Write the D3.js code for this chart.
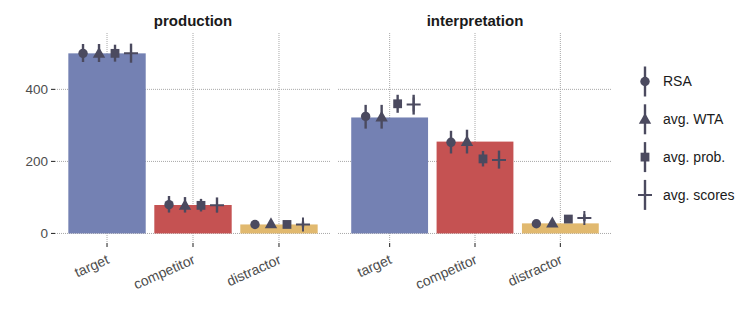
<!DOCTYPE html>
<html>
<head>
<meta charset="utf-8">
<script src="https://cdn.jsdelivr.net/npm/d3@7"></script>
<style>
  body { margin: 0; background: #fff; }
  text { font-family: "Liberation Sans", Arial, Helvetica, sans-serif; }
</style>
</head>
<body>
<div id="chart"></div>
<script>
// data

var panels = ["production", "interpretation"];
var categories = ["target", "competitor", "distractor"];
var models = ["RSA", "avg. WTA", "avg. prob.", "avg. scores"];

// observed counts (bars), per panel, per category
var barValues = [
  [500, 79, 25],
  [322, 255, 28]
];

// model predictions [panel][category][model]
var pointValues = [
  [[500, 500, 500, 500], [80, 78, 78, 78], [25, 27, 25, 25]],
  [[325, 323, 360, 358], [253, 255, 207, 204], [27, 29, 40, 43]]
];
var lowerValues = [
  [[476, 476, 477, 474], [58, 58, 61, 58], [18, 20, 19, 17]],
  [[291, 291, 335, 330], [222, 222, 186, 180], [19, 22, 31, 34]]
];
var upperValues = [
  [[526, 526, 524, 527], [104, 101, 96, 100], [32, 34, 31, 33]],
  [[357, 357, 385, 385], [285, 288, 229, 230], [35, 37, 50, 53]]
];

var yTicks = [0, 200, 400];

var width = 747, height = 327;
var barColors = ["#7481b3", "#c55252", "#e1b96f"];
var pointColor = "#4b4a5f";
var gridColor = "#a8a8a8";
var textColor = "#4d4d4d";

var panelTop = 33, panelBottom = 243;
var panelX = [[55, 331], [338, 612]];

var svg = d3.select("#chart").append("svg")
  .attr("width", width)
  .attr("height", height);

// ggplot-like 5% expansion around 0..530
var y = d3.scaleLinear()
  .domain([-26.5, 556.5])
  .range([panelBottom, panelTop]);

var dodge = d3.scalePoint()
  .domain(models)
  .range([-24, 24]);

function drawMarker(sel, i) {
  if (i == 0) {
    sel.append("circle").attr("r", 4.7).attr("fill", pointColor);
  } else if (i == 1) {
    sel.append("path").attr("d", "M0,-6.4L6.2,4.5L-6.2,4.5Z").attr("fill", pointColor);
  } else if (i == 2) {
    sel.append("rect").attr("x", -4.4).attr("y", -4.4).attr("width", 8.8).attr("height", 8.8).attr("fill", pointColor);
  } else {
    sel.append("path").attr("d", "M-7,0H7M0,-7V7")
      .attr("stroke", pointColor).attr("stroke-width", 2).attr("fill", "none");
  }
}

panels.forEach(function(panel, p) {
  var x = d3.scaleBand()
    .domain(categories)
    .range(panelX[p])
    .paddingInner(0.1)
    .paddingOuter(0.155);

  var g = svg.append("g");

  // grid
  g.selectAll(".hgrid")
    .data(yTicks)
    .enter().append("line")
    .attr("x1", panelX[p][0]).attr("x2", panelX[p][1])
    .attr("y1", function(d) { return y(d); })
    .attr("y2", function(d) { return y(d); })
    .attr("stroke", gridColor)
    .attr("stroke-dasharray", "1,1");

  g.selectAll(".vgrid")
    .data(categories)
    .enter().append("line")
    .attr("x1", function(d) { return x(d) + x.bandwidth() / 2; })
    .attr("x2", function(d) { return x(d) + x.bandwidth() / 2; })
    .attr("y1", panelTop).attr("y2", panelBottom)
    .attr("stroke", gridColor)
    .attr("stroke-dasharray", "1,1");

  // bars
  g.selectAll(".bar")
    .data(categories)
    .enter().append("rect")
    .attr("x", function(d) { return x(d); })
    .attr("width", x.bandwidth())
    .attr("y", function(d, i) { return y(barValues[p][i]); })
    .attr("height", function(d, i) { return y(0) - y(barValues[p][i]); })
    .attr("fill", function(d, i) { return barColors[i]; });

  // error bars and markers
  categories.forEach(function(cat, c) {
    models.forEach(function(m, k) {
      var cx = x(cat) + x.bandwidth() / 2 + dodge(m);
      g.append("line")
        .attr("x1", cx).attr("x2", cx)
        .attr("y1", y(lowerValues[p][c][k]))
        .attr("y2", y(upperValues[p][c][k]))
        .attr("stroke", pointColor)
        .attr("stroke-width", 2.4);
      var mk = g.append("g")
        .attr("transform", "translate(" + cx + "," + y(pointValues[p][c][k]) + ")");
      drawMarker(mk, k);
    });
  });

  // x ticks and labels
  categories.forEach(function(cat) {
    var cx = x(cat) + x.bandwidth() / 2;
    g.append("line")
      .attr("x1", cx).attr("x2", cx)
      .attr("y1", panelBottom).attr("y2", panelBottom + 4)
      .attr("stroke", "#333")
      .attr("stroke-width", 1.1);
    g.append("text")
      .attr("transform", "translate(" + (cx + 3) + ",263) rotate(-24)")
      .attr("text-anchor", "end")
      .attr("font-size", 14)
      .attr("fill", textColor)
      .text(cat);
  });

  // panel title
  g.append("text")
    .attr("x", (panelX[p][0] + panelX[p][1]) / 2)
    .attr("y", 26)
    .attr("text-anchor", "middle")
    .attr("font-size", 15)
    .attr("font-weight", "bold")
    .attr("fill", "#1a1a1a")
    .text(panel);
});

// y axis
var yAxis = svg.append("g");
yTicks.forEach(function(t) {
  yAxis.append("line")
    .attr("x1", 51).attr("x2", 55)
    .attr("y1", y(t)).attr("y2", y(t))
    .attr("stroke", "#333")
    .attr("stroke-width", 1.1);
  yAxis.append("text")
    .attr("x", 48)
    .attr("y", y(t))
    .attr("dy", "0.35em")
    .attr("text-anchor", "end")
    .attr("font-size", 13.5)
    .attr("fill", textColor)
    .text(t);
});

// legend
var legend = svg.append("g").attr("transform", "translate(645,81.5)");
models.forEach(function(m, k) {
  var lg = legend.append("g").attr("transform", "translate(0," + (k * 37.8) + ")");
  lg.append("line")
    .attr("x1", 0).attr("x2", 0)
    .attr("y1", -15).attr("y2", 15)
    .attr("stroke", pointColor)
    .attr("stroke-width", 2.4);
  drawMarker(lg, k);
  lg.append("text")
    .attr("x", 18)
    .attr("y", 0)
    .attr("dy", "0.35em")
    .attr("font-size", 14)
    .attr("fill", "#1a1a1a")
    .text(m);
});
</script>
</body>
</html>
